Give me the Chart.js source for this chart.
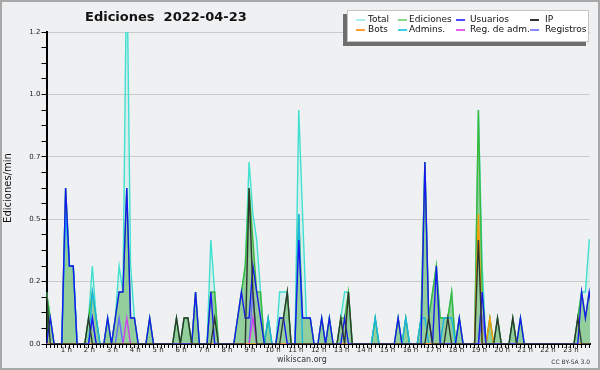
<!DOCTYPE html>
<html>
<head>
<meta charset="utf-8">
<script src="https://cdn.jsdelivr.net/npm/chart.js@4/dist/chart.umd.min.js"></script>
<style>
  body { margin: 0; background: #eff0f2; }
  #wrap { position: relative; width: 600px; height: 370px; background: #eff0f2; overflow: hidden; font-family: "DejaVu Sans", sans-serif; }
  #c { position: absolute; left: 0; top: 0; }
  #frame { position: absolute; left: 0; top: 0; width: 600px; height: 370px; box-sizing: border-box; border: 2px solid #a8a8a8; pointer-events: none; }
  #title { position: absolute; left: 85px; top: 9px; font-weight: bold; font-size: 13px; white-space: pre; color: #111; }
  #shadow { position: absolute; left: 343px; top: 14px; width: 243px; height: 32px; background: #6e6e6e; }
  #legend { position: absolute; left: 347px; top: 10px; width: 242px; height: 32px; box-sizing: border-box; background: #fff; border: 1px solid #c4c4c4; }
  .it { position: absolute; font-size: 9px; line-height: 10px; color: #111; white-space: nowrap; }
  .sw { position: absolute; height: 1.5px; width: 9px; }
  #site { position: absolute; left: 277px; top: 355px; font-size: 8px; color: #333; }
  #lic { position: absolute; right: 10px; top: 358px; font-size: 6px; color: #333; }
</style>
</head>
<body>
<div id="wrap">
  <canvas id="c" width="600" height="370"></canvas>
  <div id="title">Ediciones  2022-04-23</div>
  <div id="shadow"></div>
  <div id="legend"></div>
  <div id="site">wikiscan.org</div>
  <div id="lic">CC BY-SA 3.0</div>
  <div id="frame"></div>
</div>
<script>
// one value every 10 minutes (144 per day), edits per minute
const total = [
  0.2,0.1,0,0,0,0.6, 0.3,0.3,0,0,0,0.1, 0.3,0.1,0,0,0.1,0, 0.1,0.3,0.2,1.5,0.3,0.1,
  0,0,0,0.1,0,0, 0,0,0,0,0.1,0, 0.1,0.1,0,0.2,0,0, 0,0.4,0.2,0,0,0,
  0,0,0.1,0.2,0.3,0.7, 0.5,0.4,0.2,0,0.1,0, 0,0.2,0.2,0.2,0,0, 0.9,0.5,0.1,0.1,0,0,
  0.1,0,0.1,0,0,0.1, 0.2,0.2,0,0,0,0, 0,0,0.1,0,0,0, 0,0,0.1,0,0.1,0,
  0,0,0.1,0.7,0.1,0.2, 0.3,0.1,0.1,0.1,0.2,0, 0.1,0,0,0,0,0.9, 0.3,0,0.1,0,0.1,0,
  0,0,0.1,0,0.1,0, 0,0,0,0,0,0, 0,0,0,0,0,0, 0,0.1,0.2,0.2,0.4,0.4
];
const ediciones = [
  0.2,0.1,0,0,0,0.6, 0.3,0.3,0,0,0,0.1, 0.2,0.1,0,0,0.1,0, 0.1,0.2,0.2,0.6,0.1,0.1,
  0,0,0,0.1,0,0, 0,0,0,0,0.1,0, 0.1,0.1,0,0.2,0,0, 0,0.2,0.2,0,0,0,
  0,0,0.1,0.2,0.3,0.6, 0.4,0.2,0.2,0,0.1,0, 0,0.1,0.1,0.2,0,0, 0.5,0.1,0.1,0.1,0,0,
  0.1,0,0.1,0,0,0.1, 0.1,0.2,0,0,0,0, 0,0,0.1,0,0,0, 0,0,0.1,0,0.1,0,
  0,0,0.1,0.7,0.1,0.2, 0.3,0.1,0.1,0.1,0.2,0, 0.1,0,0,0,0,0.9, 0.2,0,0.1,0,0.1,0,
  0,0,0.1,0,0.1,0, 0,0,0,0,0,0, 0,0,0,0,0,0, 0,0.1,0.2,0.1,0.2,0.2
];
const usuarios = [
  0,0.1,0,0,0,0.6, 0.3,0.3,0,0,0,0, 0.1,0,0,0,0.1,0, 0.1,0.2,0.2,0.6,0.1,0.1,
  0,0,0,0.1,0,0, 0,0,0,0,0,0, 0,0,0,0.2,0,0, 0,0.2,0,0,0,0,
  0,0,0.1,0.2,0.1,0.1, 0.3,0.2,0.1,0,0,0, 0,0.1,0.1,0,0,0, 0.4,0.1,0.1,0.1,0,0,
  0.1,0,0.1,0,0,0, 0.1,0,0,0,0,0, 0,0,0,0,0,0, 0,0,0.1,0,0,0,
  0,0,0,0.7,0.1,0, 0.3,0,0,0,0,0, 0.1,0,0,0,0,0, 0.2,0,0,0,0,0,
  0,0,0,0,0.1,0, 0,0,0,0,0,0, 0,0,0,0,0,0, 0,0,0.2,0.1,0.2,0.1
];
const ip = [
  0.2,0,0,0,0,0, 0,0,0,0,0,0.1, 0,0,0,0,0,0, 0,0,0,0,0,0,
  0,0,0,0,0,0, 0,0,0,0,0.1,0, 0.1,0.1,0,0,0,0, 0,0,0.1,0,0,0,
  0,0,0,0,0,0.6, 0.2,0,0,0,0,0, 0,0,0.1,0.2,0,0, 0,0,0,0,0,0,
  0,0,0,0,0,0.1, 0,0.2,0,0,0,0, 0,0,0,0,0,0, 0,0,0,0,0,0,
  0,0,0,0,0.1,0, 0,0,0,0.1,0,0, 0,0,0,0,0,0.4, 0,0,0,0,0.1,0,
  0,0,0.1,0,0,0, 0,0,0,0,0,0, 0,0,0,0,0,0, 0,0.1,0,0,0,0
];
const bots = [
  0,0,0,0,0,0, 0,0,0,0,0,0, 0,0,0,0,0,0, 0,0,0,0,0,0,
  0,0,0,0,0,0, 0,0,0,0,0,0, 0,0,0,0,0,0, 0,0,0,0,0,0,
  0,0,0,0,0,0, 0,0,0,0,0,0, 0,0,0,0,0,0, 0,0,0,0,0,0,
  0,0,0,0,0,0, 0,0,0,0,0,0, 0,0,0,0,0,0, 0,0,0,0,0,0,
  0,0,0,0,0,0, 0,0,0,0,0,0, 0,0,0,0,0,0.5, 0,0,0.1,0,0,0,
  0,0,0,0,0,0, 0,0,0,0,0,0, 0,0,0,0,0,0, 0,0,0,0,0,0
];
const admins = [
  0,0,0,0,0,0.5, 0.3,0.3,0,0,0,0, 0.2,0.1,0,0,0,0, 0,0,0,0,0,0,
  0,0,0,0,0,0, 0,0,0,0,0,0, 0,0,0,0,0,0, 0,0,0,0,0,0,
  0,0,0,0,0,0, 0,0,0,0,0.1,0, 0,0,0,0,0,0, 0.5,0,0,0,0,0,
  0,0,0,0,0,0, 0,0,0,0,0,0, 0,0,0.1,0,0,0, 0,0,0,0,0.1,0,
  0,0,0.1,0.1,0,0, 0,0,0.1,0.1,0.1,0, 0,0,0,0,0,0, 0,0,0,0,0,0,
  0,0,0,0,0,0, 0,0,0,0,0,0, 0,0,0,0,0,0, 0,0,0,0,0,0
];
const regAdm = [
  0,0,0,0,0,0, 0,0,0,0,0,0, 0,0,0,0,0,0, 0,0,0,0.1,0,0,
  0,0,0,0,0,0, 0,0,0,0,0,0, 0,0,0,0,0,0, 0,0,0,0,0,0,
  0,0,0,0,0,0, 0.1,0,0,0,0,0, 0,0,0,0,0,0, 0,0,0,0,0,0,
  0,0,0,0,0,0, 0,0,0,0,0,0, 0,0,0,0,0,0, 0,0,0,0,0,0,
  0,0,0,0,0,0, 0,0,0,0,0,0, 0,0,0,0,0,0, 0,0,0,0,0,0,
  0,0,0,0,0,0, 0,0,0,0,0,0, 0,0,0,0,0,0, 0,0,0,0,0,0
];
const registros = [
  0,0,0,0,0,0, 0,0,0,0,0,0, 0.1,0,0,0,0,0, 0,0.1,0,0,0,0,
  0,0,0,0,0,0, 0,0,0,0,0,0, 0,0,0,0,0,0, 0,0,0,0,0,0,
  0,0,0,0,0,0, 0.2,0,0,0,0,0, 0,0,0,0,0,0, 0,0,0,0,0,0,
  0,0,0,0,0,0, 0,0,0,0,0,0, 0,0,0,0,0,0, 0,0,0,0,0,0,
  0,0,0,0,0,0, 0,0,0,0,0,0, 0,0,0,0,0,0, 0.1,0,0,0,0,0,
  0,0,0,0,0,0, 0,0,0,0,0,0, 0,0,0,0,0,0, 0,0,0,0,0,0
];

const yTicks = [0, 0.24, 0.48, 0.72, 0.96, 1.2];

const series = [
  { label: "Total",        data: total,     color: "#3fe0d0", legend: "#a6ece4", order: 8, fill: "rgba(64,224,208,0.12)" },
  { label: "Ediciones",    data: ediciones, color: "#3cb83c", legend: "#88d888", order: 7, fill: "rgba(60,170,60,0.45)" },
  { label: "Usuarios",     data: usuarios,  color: "#1818f0", legend: "#4848ff", order: 2 },
  { label: "IP",           data: ip,        color: "#2e362e", legend: "#333333", order: 1 },
  { label: "Bots",         data: bots,      color: "#ff9a00", legend: "#ffa030", order: 3 },
  { label: "Admins.",      data: admins,    color: "#1cb4e4", legend: "#40d0e8", order: 6 },
  { label: "Reg. de adm.", data: regAdm,    color: "#d040f0", legend: "#e060f0", order: 4 },
  { label: "Registros",    data: registros, color: "#6a6aff", legend: "#8888ff", order: 5 },
];

// legend (html)
const legendPos = [[8, 20], [50, 61], [108, 122], [182, 197]]; // [swatch x, text x] per column
const legendEl = document.getElementById('legend');
series.forEach((s, k) => {
  const col = k % 4, row = Math.floor(k / 4);
  const sw = document.createElement('div');
  sw.className = 'sw';
  sw.style.left = legendPos[col][0] + 'px';
  sw.style.top = (8 + row * 10) + 'px';
  sw.style.background = s.legend;
  legendEl.appendChild(sw);
  const t = document.createElement('div');
  t.className = 'it';
  t.style.left = legendPos[col][1] + 'px';
  t.style.top = (3 + row * 10) + 'px';
  t.textContent = s.label;
  legendEl.appendChild(t);
});

const tickFont = { family: "DejaVu Sans", size: 7 };

new Chart(document.getElementById('c').getContext('2d'), {
  type: "line",
  data: {
    datasets: series.map(s => ({
      label: s.label,
      data: s.data.map((v, i) => ({ x: i, y: v })),
      borderColor: s.color,
      borderWidth: 1.4,
      backgroundColor: s.fill || "transparent",
      fill: s.fill ? "origin" : false,
      order: s.order,
      pointRadius: 0,
      tension: 0,
    })),
  },
  options: {
    responsive: false,
    animation: false,
    layout: { padding: { top: 32, right: 10, left: 0, bottom: 0 } },
    plugins: { legend: { display: false }, tooltip: { enabled: false } },
    scales: {
      x: {
        type: "linear",
        min: 0,
        max: 142.2,
        afterBuildTicks: (scale) => {
          const t = [];
          for (let i = 0; i <= 142; i++) t.push({ value: i });
          scale.ticks = t;
        },
        afterFit: (scale) => { scale.height = 26; },
        ticks: {
          autoSkip: false,
          maxRotation: 0,
          minRotation: 0,
          padding: -2,
          labelOffset: -3,
          color: "#222",
          font: tickFont,
          callback: (v) => (v > 0 && v % 6 === 0) ? (v / 6) + " h" : "",
        },
        grid: { drawOnChartArea: false, tickLength: 4, tickColor: "#000" },
        border: { color: "#000", width: 2 },
      },
      y: {
        min: 0,
        max: 1.2,
        afterBuildTicks: (scale) => {
          const t = [];
          for (let i = 0; i <= 20; i++) t.push({ value: i * 0.06 });
          scale.ticks = t;
        },
        afterFit: (scale) => { scale.width = 46.5; },
        ticks: {
          padding: 1,
          color: "#222",
          font: tickFont,
          callback: (v, i) => (i % 4 === 0) ? yTicks[i / 4].toFixed(1) : "",
        },
        grid: {
          color: (ctx) => (ctx.index % 4 === 0) ? "#cacaca" : "rgba(0,0,0,0)",
          tickColor: "#000",
          tickLength: 5,
        },
        border: { color: "#000", width: 2 },
        title: {
          display: true,
          text: "Ediciones/min",
          color: "#111",
          font: { family: "DejaVu Sans", size: 10 },
          padding: { top: 2, bottom: 0 },
        },
      },
    },
  },
});
</script>
</body>
</html>
